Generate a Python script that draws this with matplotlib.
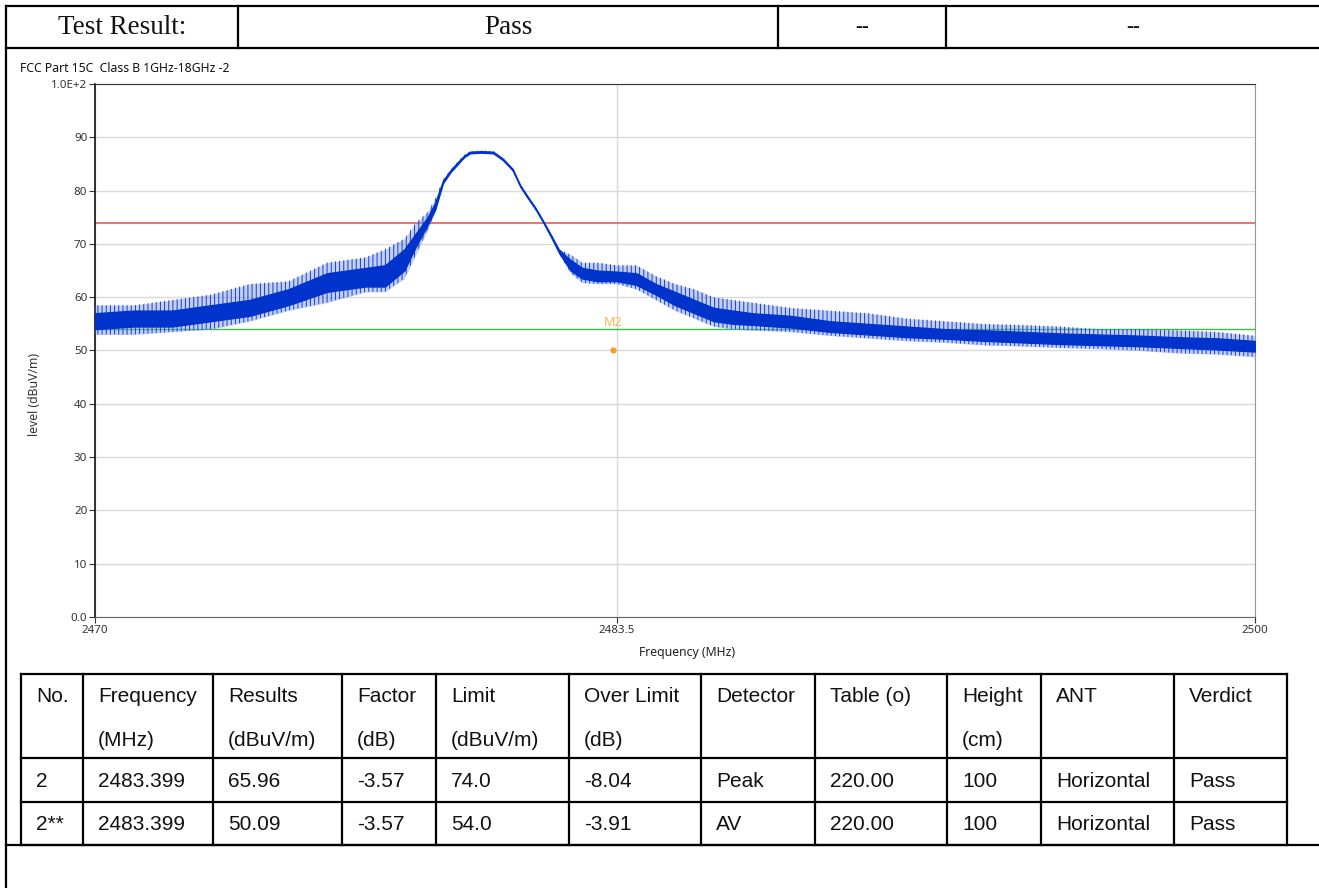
import matplotlib
matplotlib.use('Agg')
import matplotlib.pyplot as plt

# spectrum trace, read as envelopes: outer spikes and dense core band (dBuV/m)
freq_mhz = [2470, 2471, 2472, 2473, 2474, 2475, 2476, 2477, 2477.5, 2478,
            2478.3, 2478.6, 2478.8, 2479, 2479.2, 2479.4, 2479.55, 2479.7,
            2480, 2480.3, 2480.55, 2480.8, 2481, 2481.2, 2481.4, 2481.6,
            2481.8, 2482, 2482.3, 2482.6, 2483, 2483.5, 2484, 2484.5,
            2485, 2485.5, 2486, 2486.5, 2487, 2488, 2489, 2490, 2491, 2492,
            2493, 2494, 2495, 2496, 2497, 2498, 2499, 2500]
spike_lo = [53.0, 53.0, 53.5, 54.0, 55.5, 57.5, 59.0, 61.0, 61.0, 63.5,
            68.0, 72.5, 76.0, 81.2, 83.4, 85.0, 86.2, 86.9,
            87.0, 86.9, 85.6, 83.7, 80.6, 78.4, 76.3, 73.8,
            71.1, 68.2, 64.5, 62.7, 62.5, 62.5, 61.5, 59.5,
            57.5, 56.0, 54.5, 54.0, 53.8, 53.5, 52.8, 52.3, 51.8, 51.5,
            51.0, 50.8, 50.5, 50.3, 50.0, 49.5, 49.3, 48.8]
core_lo = [54.0, 54.5, 54.5, 55.5, 56.5, 58.5, 61.0, 62.0, 62.0, 65.0,
           69.5, 73.5, 76.5, 81.4, 83.5, 85.1, 86.3, 87.0,
           87.1, 87.0, 85.7, 83.8, 80.7, 78.5, 76.4, 73.9,
           71.2, 68.3, 65.0, 63.5, 63.0, 63.0, 62.3, 60.5,
           58.5, 57.0, 55.5, 55.0, 54.8, 54.3, 53.5, 53.0, 52.5, 52.2,
           51.8, 51.5, 51.2, 51.0, 50.8, 50.5, 50.2, 49.8]
core_hi = [57.0, 57.5, 57.5, 58.5, 59.5, 61.5, 64.5, 65.5, 66.0, 69.0,
           72.0, 75.0, 77.8, 81.9, 83.9, 85.5, 86.6, 87.3,
           87.4, 87.3, 86.0, 84.1, 81.0, 78.8, 76.7, 74.2,
           71.6, 68.9, 67.0, 65.5, 65.0, 64.8, 64.5, 62.5,
           61.0, 59.5, 58.0, 57.5, 57.0, 56.5, 55.5, 55.0, 54.5, 54.0,
           53.8, 53.5, 53.2, 53.0, 52.8, 52.5, 52.3, 51.8]
spike_hi = [58.5, 58.5, 59.5, 60.5, 62.5, 63.0, 66.5, 67.5, 69.0, 71.0,
            74.0, 76.0, 78.5, 82.1, 84.0, 85.6, 86.7, 87.4,
            87.5, 87.4, 86.1, 84.2, 81.1, 78.9, 76.8, 74.3,
            71.7, 69.0, 68.0, 66.5, 66.5, 66.0, 66.0, 64.0,
            62.5, 61.5, 60.0, 59.5, 59.0, 58.0, 57.5, 57.0, 56.0, 55.5,
            55.0, 54.8, 54.5, 54.0, 54.0, 53.8, 53.5, 52.8]

peak_limit = 74.0
avg_limit = 54.0
marker_name = 'M2'
marker_freq = 2483.399
marker_level = 50.09

y_ticks = [0, 10, 20, 30, 40, 50, 60, 70, 80, 90, 100]
y_tick_labels = ['0.0', '10', '20', '30', '40', '50', '60', '70', '80', '90', '1.0E+2']
x_ticks = [2470, 2483.5, 2500]
x_tick_labels = ['2470', '2483.5', '2500']

header_cells = ['Test Result:', 'Pass', '--', '--']
col_names = [('No.', ''), ('Frequency', '(MHz)'), ('Results', '(dBuV/m)'),
             ('Factor', '(dB)'), ('Limit', '(dBuV/m)'), ('Over Limit', '(dB)'),
             ('Detector', ''), ('Table (o)', ''), ('Height', '(cm)'),
             ('ANT', ''), ('Verdict', '')]
rows = [['2', '2483.399', '65.96', '-3.57', '74.0', '-8.04', 'Peak',
         '220.00', '100', 'Horizontal', 'Pass'],
        ['2**', '2483.399', '50.09', '-3.57', '54.0', '-3.91', 'AV',
         '220.00', '100', 'Horizontal', 'Pass']]

plt.rcParams['hatch.linewidth'] = 0.7

W, H = 1319, 888
fig = plt.figure(figsize=(W / 100, H / 100), dpi=100)

# page frame in pixel coordinates
frame = fig.add_axes([0, 0, 1, 1])
frame.set_xlim(0, W)
frame.set_ylim(H, 0)
frame.axis('off')


def seg(x0, y0, x1, y1, lw=1.6):
    frame.plot([x0, x1], [y0, y1], color='black', lw=lw,
               solid_capstyle='projecting')


# result header
seg(6, 6, W, 6)
seg(6, 48, W, 48)
seg(6, 6, 6, H)
for x in [238, 778, 946]:
    seg(x, 6, x, 48)
head_x = [122, 508, 862, 1133]
for x, txt in zip(head_x, header_cells):
    frame.text(x, 28, txt, ha='center', va='center',
               fontsize=19.5 if txt != '--' else 15,
               family='Liberation Serif', color='#111')

# measurement table
col_x = [21, 83, 213, 342, 436, 569, 701, 815, 947, 1041, 1174, 1287]
row_y = [674, 758, 802, 845]
for y in row_y:
    seg(col_x[0], y, col_x[-1], y)
seg(6, 845, W, 845)
for x in col_x:
    seg(x, row_y[0], x, row_y[-1])
tkw = dict(ha='left', va='center', fontsize=15, family='Liberation Sans',
           color='#111')
for i, (top, bot) in enumerate(col_names):
    frame.text(col_x[i] + 15, 696, top, **tkw)
    if bot:
        frame.text(col_x[i] + 15, 740, bot, **tkw)
for r, yc in zip(rows, [781, 824]):
    for i, cell in enumerate(r):
        frame.text(col_x[i] + 15, yc, cell, **tkw)

# chart
fig.text(20 / W, 1 - 68 / H, 'FCC Part 15C  Class B 1GHz-18GHz -2',
         fontsize=8.8, va='center', family='Noto Sans', color='#111')
ax = fig.add_axes([95 / W, 1 - 617 / H, 1160 / W, 533 / H])
ax.set_xlim(2470, 2500)
ax.set_ylim(0, 100)
ax.set_xticks(x_ticks)
ax.set_xticklabels(x_tick_labels)
ax.set_yticks(y_ticks)
ax.set_yticklabels(y_tick_labels)
ax.tick_params(direction='out', length=4, width=0.8, colors='#333',
               labelsize=8.3, pad=1.5)
for lab in ax.get_xticklabels() + ax.get_yticklabels():
    lab.set_family('Noto Sans')
ax.grid(True, color='#dadada', lw=1)
ax.set_axisbelow(True)
ax.spines['left'].set_color('#111')
ax.spines['left'].set_linewidth(1.2)
ax.spines['top'].set_color('#333')
ax.spines['right'].set_color('#999')
ax.spines['bottom'].set_color('#666')

ax.axhline(peak_limit, color='#f06464', lw=1.3, zorder=2)
ax.axhline(avg_limit, color='#3cbf4a', lw=1.0, zorder=2)

# outer spikes: light fill with vertical hatch texture, then the dense core
ax.fill_between(freq_mhz, spike_lo, spike_hi, color='#7d96e6', alpha=0.45,
                lw=0, zorder=3)
ax.fill_between(freq_mhz, spike_lo, spike_hi, facecolor='none',
                edgecolor='#1040d0', hatch='||||', lw=0, zorder=3)
ax.fill_between(freq_mhz, core_lo, core_hi, color='#0033cc',
                edgecolor='#0033cc', lw=0.9, zorder=4)

ax.plot(marker_freq, marker_level, 'o', ms=3.5, color='#f5a020', zorder=5)
ax.annotate(marker_name, (marker_freq, marker_level), xytext=(0, 20),
            textcoords='offset points', ha='center', va='center',
            fontsize=9, color='#f7b950', family='Noto Sans')

fig.text(35 / W, 1 - 394 / H, 'level (dBuV/m)', rotation=90, ha='center',
         va='center', fontsize=8.8, family='Noto Sans', color='#333')
fig.text(687 / W, 1 - 652 / H, 'Frequency (MHz)', ha='center', va='center',
         fontsize=8.8, family='Noto Sans', color='#222')

fig.savefig('out.png', dpi=100)
